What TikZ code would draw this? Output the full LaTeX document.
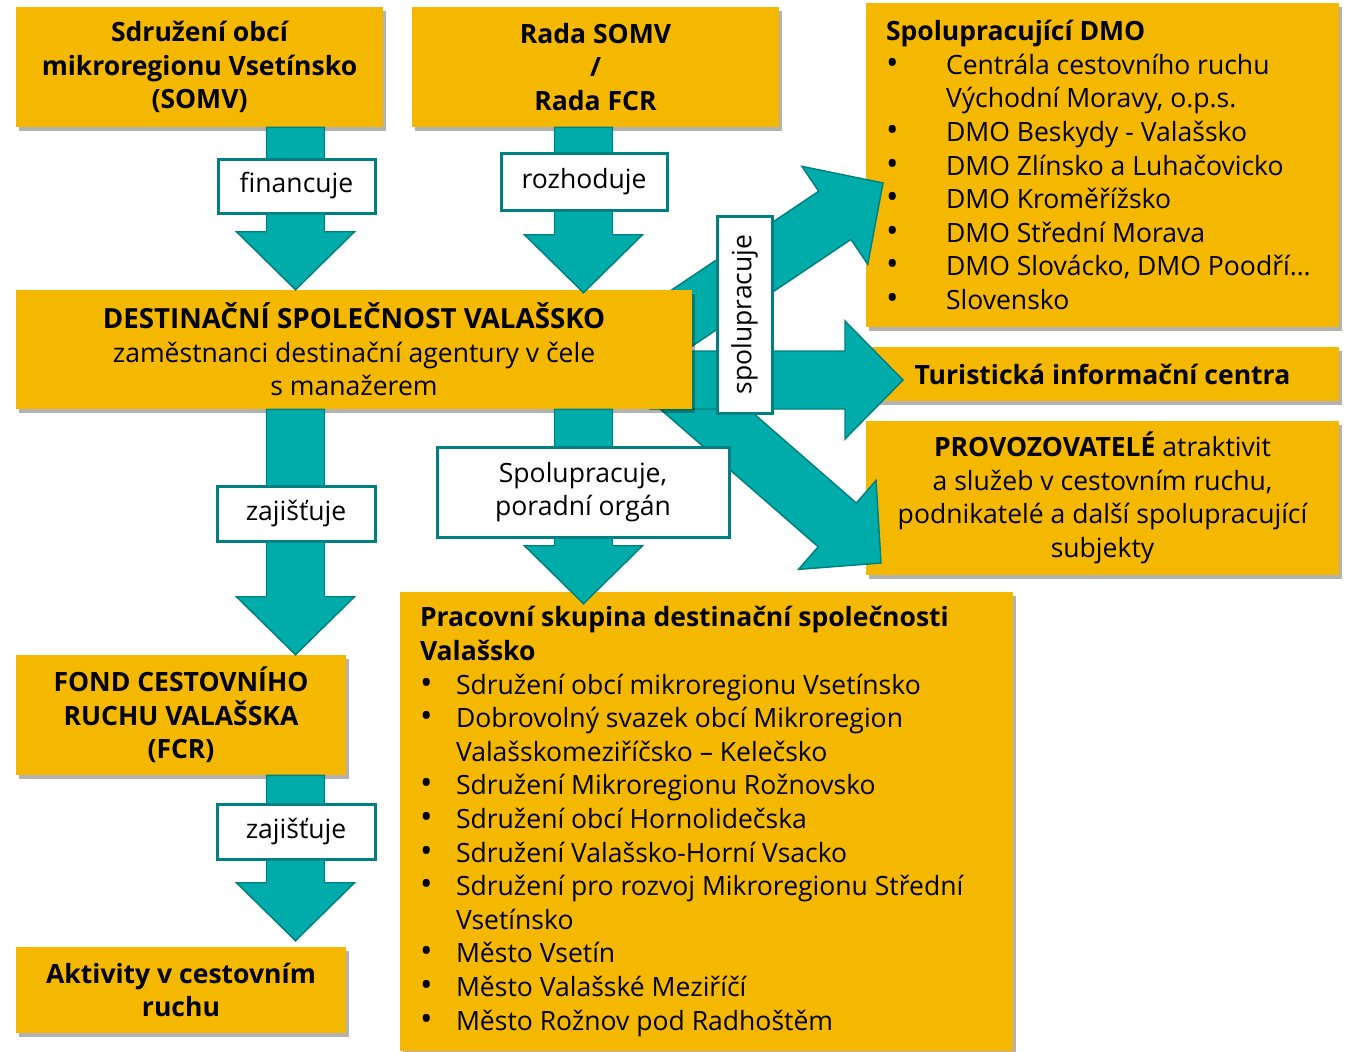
\documentclass[tikz,border=0pt]{standalone}
\usepackage{fontspec}
\setmainfont{Open Sans}
\usetikzlibrary{calc,shadows}
\definecolor{boxyellow}{RGB}{245,184,0}
\definecolor{tealfill}{RGB}{0,172,170}
\definecolor{tealdark}{RGB}{0,128,128}
\newcommand\bitem[2]{\makebox[#1][l]{\scalebox{1.25}{•}}#2}
\newcommand\barrow[2]{%
  \coordinate (bat) at (#1);
  \coordinate (bah) at (#2);
  \coordinate (bab) at ($(bah)!43.5pt!(bat)$);
  \draw[barr] ($(bat)!21.75pt!90:(bah)$) -- ($(bab)!21.75pt!90:(bah)$) -- ($(bab)!44.25pt!90:(bah)$) -- (bah)
    -- ($(bab)!44.25pt!-90:(bah)$) -- ($(bab)!21.75pt!-90:(bah)$) -- ($(bat)!21.75pt!-90:(bah)$) -- cycle;}
\begin{document}
\begin{tikzpicture}[x=0.75pt,y=-0.75pt,
  txtfont/.style={font=\fontsize{19.9}{25.2}\selectfont},
  ybox/.style={fill=boxyellow, draw=none, inner sep=0pt, align=center, txtfont,
     drop shadow={shadow xshift=2.5pt, shadow yshift=-3pt, opacity=.3, fill=black}},
  ytext/.style={inner sep=0pt, align=left, anchor=west, txtfont},
  lbl/.style={fill=white, draw=tealdark, line width=2.25pt, inner sep=0pt, align=center, txtfont},
  barr/.style={fill=tealfill, draw=tealdark, line width=1.1pt, line join=miter}]
\useasboundingbox[fill=white] (0,0) rectangle (1346,1051);
\coordinate (colL) at (295.5,0);
\coordinate (colM) at (583.5,0);
% boxes
\node[ybox, minimum width=275.25pt, minimum height=90pt] (somv) at (199.5,67)
  {\bfseries Sdružení obcí\\\bfseries mikroregionu Vsetínsko\\\bfseries (SOMV)};
\node[ybox, minimum width=275.25pt, minimum height=90pt] (rada) at (595.5,67)
  {\bfseries Rada SOMV\\\bfseries /\\\bfseries Rada FCR};
\node[ybox, minimum width=354.75pt, minimum height=243pt] (dmo) at (1102.5,165) {};
\node[ybox, minimum width=354.75pt, minimum height=40.5pt] (tic) at (1102.5,374)
  {\bfseries Turistická informační centra};
\node[ybox, minimum width=354.75pt, minimum height=115.5pt] (prov) at (1102.5,498)
  {\textbf{PROVOZOVATELÉ} atraktivit\\a služeb v cestovním ruchu,\\podnikatelé a další spolupracující\\subjekty};
\node[ybox, minimum width=459.75pt, minimum height=344.25pt] (prac) at (706.5,821.5) {};
\node[ybox, minimum width=247.5pt, minimum height=90pt] (fcr) at (181,715)
  {\bfseries FOND CESTOVNÍHO\\\bfseries RUCHU VALAŠSKA\\\bfseries (FCR)};
\node[ybox, minimum width=247.5pt, minimum height=64.5pt] (akt) at (181,990)
  {\bfseries Aktivity v cestovním\\\bfseries ruchu};
% arrows leaving from behind the destination company box
\coordinate (dsvc) at (354,349.5);
\coordinate (tdr) at (632,346);
\coordinate (tur) at (609,367);
\coordinate (thz) at (650,380);
\coordinate (hdr) at (881,563);
\coordinate (hur) at (883,183);
\coordinate (hhz) at (903,380);
\barrow{tdr}{hdr}
\barrow{tur}{hur}
\barrow{thz}{hhz}
\node[ybox, minimum width=507pt, minimum height=89.25pt] (dsv) at (dsvc)
  {{\fontsize{20.8}{25.2}\selectfont\bfseries DESTINAČNÍ SPOLEČNOST VALAŠSKO}\\zaměstnanci destinační agentury v čele\\s manažerem};
% vertical arrows
\coordinate (a2tip) at ($(dsv.north -| colM)+(0,3)$);
\coordinate (a4tip) at ($(akt.north -| colL)+(0,-6)$);
\coordinate (a5tip) at ($(prac.north -| colM)+(0,12)$);
\barrow{somv.south -| colL}{dsv.north -| colL}
\barrow{rada.south -| colM}{a2tip}
\barrow{dsv.south -| colL}{fcr.north -| colL}
\barrow{fcr.south -| colL}{a4tip}
\barrow{dsv.south -| colM}{a5tip}
% list texts
\node[ytext] (dmotext) at ($(dmo.west)+(20,0)$) {%
  \textbf{Spolupracující DMO}\\
  \bitem{45pt}{Centrála cestovního ruchu}\\
  \hspace*{45pt}Východní Moravy, o.p.s.\\
  \bitem{45pt}{DMO Beskydy - Valašsko}\\
  \bitem{45pt}{DMO Zlínsko a Luhačovicko}\\
  \bitem{45pt}{DMO Kroměřížsko}\\
  \bitem{45pt}{DMO Střední Morava}\\
  \bitem{45pt}{DMO Slovácko, DMO Poodří…}\\
  \bitem{45pt}{Slovensko}};
\node[ytext] (practext) at ($(prac.west)+(20,0)$) {%
  \textbf{Pracovní skupina destinační společnosti}\\
  \textbf{Valašsko}\\
  \bitem{27pt}{Sdružení obcí mikroregionu Vsetínsko}\\
  \bitem{27pt}{Dobrovolný svazek obcí Mikroregion}\\
  \hspace*{27pt}Valašskomeziříčsko – Kelečsko\\
  \bitem{27pt}{Sdružení Mikroregionu Rožnovsko}\\
  \bitem{27pt}{Sdružení obcí Hornolidečska}\\
  \bitem{27pt}{Sdružení Valašsko-Horní Vsacko}\\
  \bitem{27pt}{Sdružení pro rozvoj Mikroregionu Střední}\\
  \hspace*{27pt}Vsetínsko\\
  \bitem{27pt}{Město Vsetín}\\
  \bitem{27pt}{Město Valašské Meziříčí}\\
  \bitem{27pt}{Město Rožnov pod Radhoštěm}};
% labels
\node[lbl, minimum width=117.75pt, minimum height=40.5pt] (lfin) at (296.5,186) {financuje};
\node[lbl, minimum width=124.5pt, minimum height=42.75pt] (lroz) at (584,181.5) {rozhoduje};
\node[lbl, minimum width=118.5pt, minimum height=41.25pt] (lzaj1) at (296,513.5) {zajišťuje};
\node[lbl, minimum width=118.5pt, minimum height=41.25pt] (lzaj2) at (296,831.5) {zajišťuje};
\node[lbl, minimum width=219pt, minimum height=67.5pt] (lspo) at (583,492) {Spolupracuje,\\poradní orgán};
\node[lbl, minimum width=147.75pt, minimum height=41.25pt, rotate=90] (lspv) at (744.5,314.5) {spolupracuje};
\end{tikzpicture}
\end{document}
